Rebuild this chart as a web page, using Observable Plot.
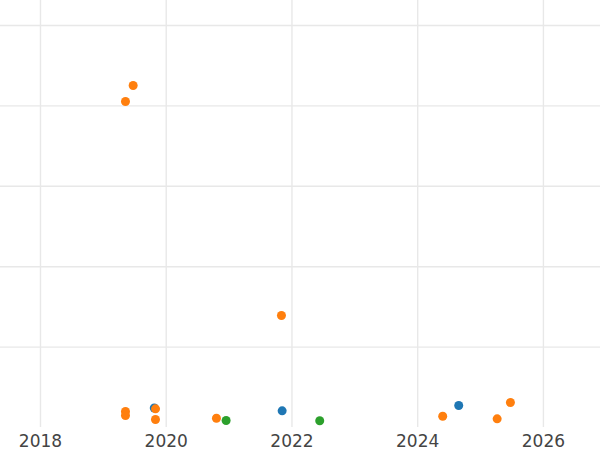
<!DOCTYPE html>
<html>
<head>
<meta charset="utf-8">
<script src="https://cdn.jsdelivr.net/npm/d3@7"></script>
<script src="https://cdn.jsdelivr.net/npm/@observablehq/plot@0.6"></script>
<style>
  html, body { margin: 0; padding: 0; background: #fff; }
  #chart svg { display: block; }
</style>
</head>
<body>
<div id="chart"></div>
<script>
// Series (drawn in this order: A, B, C)
const seriesNames = ["A", "B", "C"];
const seriesColors = ["#1f77b4", "#ff7f0e", "#2ca02c"];

const aX = [2019.810, 2021.844, 2024.653];
const aY = [4.85, 4.15, 5.47];

const bX = [2019.474, 2019.352, 2021.833, 2019.352, 2019.352, 2019.830, 2019.829, 2020.799, 2024.398, 2025.264, 2025.475];
const bY = [85.07, 81.09, 27.86, 3.98, 2.99, 4.65, 1.99, 2.31, 2.81, 2.16, 6.22];

const cX = [2020.953, 2022.442];
const cY = [1.74, 1.67];

const xTicks = [2018, 2020, 2022, 2024, 2026];
const yTicks = [20, 40, 60, 80, 100];

const data = [];
[[aX, aY], [bX, bY], [cX, cY]].forEach(([xs, ys], s) => {
  xs.forEach((x, i) => data.push({series: seriesNames[s], x, y: ys[i]}));
});

const chart = Plot.plot({
  width: 600,
  height: 450,
  marginLeft: 0,
  marginRight: 0,
  marginTop: 0,
  marginBottom: 23,
  style: {fontFamily: "DejaVu Sans", fontSize: "17px", color: "#444", background: "#fff"},
  x: {domain: [2017.364, 2026.908], ticks: xTicks, tickFormat: d => String(d), tickSize: 0, tickPadding: 7, label: null},
  y: {domain: [0, 106.22], axis: null},
  color: {domain: seriesNames, range: seriesColors},
  marks: [
    Plot.gridX(xTicks, {stroke: "#e8e8e8", strokeOpacity: 1, strokeWidth: 1.4}),
    Plot.gridY(yTicks, {stroke: "#e8e8e8", strokeOpacity: 1, strokeWidth: 1.4}),
    Plot.axisX({ticks: xTicks, tickFormat: d => String(d), tickSize: 0, tickPadding: 7, label: null, fill: "#444"}),
    Plot.dot(data, {x: "x", y: "y", fill: "series", r: 4.5, stroke: null})
  ]
});
document.getElementById("chart").appendChild(chart);
</script>
</body>
</html>
